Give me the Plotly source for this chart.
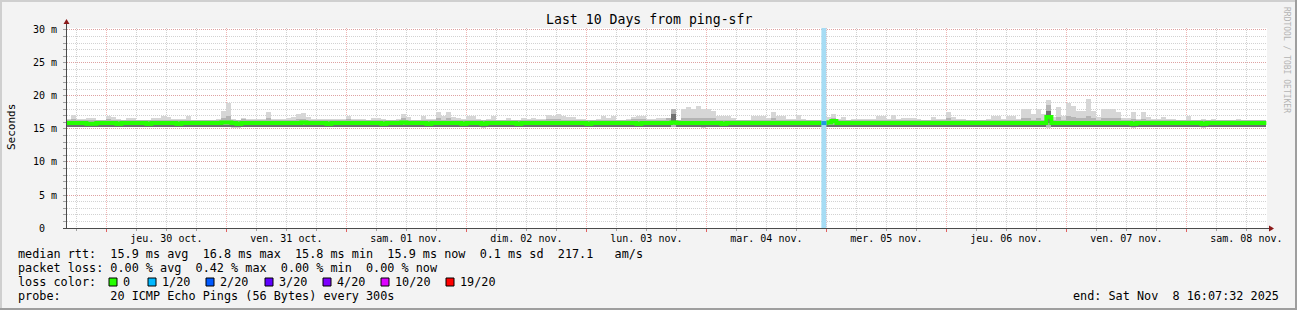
import plotly.graph_objects as go
import pandas as pd

# ---------------- data ----------------
block_start = "2025-10-29 16:00"          # first hourly consolidated block
range_start = "2025-10-29 16:07:32"
range_end = "2025-11-08 16:07:32"

smoke_max = [
    16.5,17.1,16.5,16.5,16.6,16.6,16.4,16.4,16.9,16.8,16.5,16.4,16.7,16.7,16.4,16.4,16.4,16.7,16.7,17.0,
    16.8,16.5,16.5,16.5,16.9,16.4,16.4,16.4,16.4,16.4,16.5,17.8,18.9,16.5,16.4,16.7,16.5,16.5,16.5,16.5,
    17.5,16.5,16.5,16.5,16.6,16.8,17.2,17.4,16.8,16.5,16.5,16.5,16.5,16.5,16.5,16.5,17.0,16.5,16.5,16.5,
    16.4,16.7,16.7,16.5,16.4,16.4,16.5,17.3,16.8,16.3,16.4,17.0,16.5,16.5,17.5,16.9,17.6,16.8,16.7,16.5,
    16.9,16.9,16.5,16.4,16.5,16.9,16.4,16.4,16.7,16.4,16.4,16.7,16.5,16.7,16.5,16.5,17.1,17.0,17.3,16.9,
    16.8,16.8,16.5,16.5,16.4,16.4,16.5,16.9,16.7,17.0,16.4,16.4,16.5,16.8,17.0,17.0,16.5,16.5,16.7,16.7,
    16.7,18.0,16.4,18.0,18.3,18.0,18.5,18.0,18.0,17.8,17.0,17.0,17.0,16.7,16.4,16.4,16.4,17.0,16.9,16.9,
    16.7,17.5,16.9,17.0,16.5,16.5,17.1,16.5,16.4,16.4,16.4,16.4,16.8,17.3,16.5,16.8,16.4,16.5,16.5,16.5,
    16.5,16.5,16.9,16.9,16.5,17.1,16.5,16.7,16.7,16.7,16.5,16.4,16.4,16.8,16.5,16.5,17.5,16.8,16.5,16.5,
    16.4,16.4,16.4,16.4,16.5,16.9,16.9,16.5,16.9,16.9,16.5,18.0,18.0,17.3,18.0,17.3,19.4,16.8,18.3,16.9,
    18.9,18.5,17.8,17.8,19.5,17.8,16.8,18.0,18.0,18.0,17.5,16.7,16.7,17.5,16.5,17.5,16.8,16.5,16.5,16.8,
    16.5,16.5,16.4,16.4,16.9,16.4,16.4,16.5,16.4,16.5,16.4,16.4,16.4,16.4,16.5,16.4,16.4,16.4,16.4,16.4,
]

smoke_min = [
    15.3,15.3,15.3,15.3,15.3,15.3,15.3,15.3,15.3,15.3,15.3,15.3,15.3,15.3,15.3,15.3,15.3,15.3,15.3,15.3,
    15.3,15.3,15.3,15.3,15.3,15.3,15.3,15.3,15.3,15.3,15.3,15.3,15.3,15.2,15.2,15.3,15.3,15.3,15.3,15.3,
    15.3,15.3,15.3,15.3,15.3,15.3,15.3,15.3,15.3,15.3,15.3,15.3,15.3,15.3,15.3,15.3,15.3,15.3,15.3,15.3,
    15.3,15.3,15.3,15.3,15.3,15.3,15.3,15.3,15.3,15.3,15.3,15.3,15.3,15.3,15.3,15.3,15.3,15.3,15.3,15.3,
    15.3,15.3,15.3,15.1,15.3,15.3,15.3,15.3,15.3,15.3,15.3,15.3,15.3,15.3,15.3,15.3,15.3,15.3,15.3,15.3,
    15.3,15.3,15.3,15.3,15.3,15.3,15.3,15.3,15.3,15.3,15.3,15.3,15.3,15.3,15.3,15.3,15.3,15.3,15.3,15.3,
    15.3,15.3,15.3,15.3,15.3,15.3,15.3,15.2,15.3,15.3,15.3,15.3,15.3,15.3,15.3,15.3,15.3,15.3,15.3,15.3,
    15.3,15.3,15.3,15.3,15.3,15.3,15.3,15.3,15.3,15.3,15.3,15.3,15.3,15.3,15.3,15.3,15.3,15.3,15.3,15.3,
    15.3,15.3,15.3,15.3,15.3,15.3,15.3,15.3,15.3,15.3,15.3,15.3,15.3,15.3,15.3,15.3,15.3,15.3,15.3,15.3,
    15.3,15.3,15.3,15.3,15.3,15.3,15.3,15.3,15.3,15.3,15.3,15.3,15.3,15.3,15.3,15.3,15.2,15.3,15.3,15.3,
    15.3,15.3,15.3,15.3,15.3,15.3,15.3,15.3,15.3,15.3,15.3,15.3,15.3,15.2,15.3,15.3,15.3,15.3,15.3,15.3,
    15.3,15.3,15.3,15.3,15.3,15.3,15.3,15.1,15.3,15.3,15.3,15.3,15.3,15.3,15.3,15.3,15.3,15.3,15.3,15.3,
]

inner_hi = [
    16.3,16.5,16.3,16.3,16.3,16.3,16.3,16.3,16.5,16.3,16.3,16.3,16.3,16.3,16.3,16.3,16.3,16.3,16.3,16.3,
    16.3,16.3,16.3,16.3,16.3,16.3,16.3,16.3,16.3,16.3,16.3,16.6,17.0,16.3,16.3,16.5,16.3,16.3,16.3,16.3,
    16.6,16.3,16.3,16.3,16.3,16.3,16.5,16.5,16.3,16.3,16.3,16.3,16.3,16.3,16.3,16.3,16.5,16.3,16.3,16.3,
    16.3,16.3,16.3,16.3,16.3,16.3,16.3,16.6,16.3,16.3,16.3,16.3,16.3,16.3,16.6,16.3,16.6,16.3,16.3,16.3,
    16.3,16.3,16.3,16.3,16.3,16.3,16.3,16.3,16.3,16.3,16.3,16.3,16.3,16.3,16.3,16.3,16.5,16.5,16.5,16.3,
    16.3,16.3,16.3,16.3,16.3,16.3,16.3,16.3,16.3,16.3,16.3,16.3,16.3,16.5,16.5,16.5,16.3,16.3,16.3,16.3,
    16.6,18.0,16.3,16.6,16.6,16.6,16.6,16.6,16.6,16.6,16.3,16.3,16.3,16.3,16.3,16.3,16.3,16.3,16.3,16.3,
    16.3,16.6,16.3,16.3,16.3,16.3,16.3,16.3,16.3,16.3,16.3,16.3,16.3,16.6,16.3,16.3,16.3,16.3,16.3,16.3,
    16.3,16.3,16.3,16.3,16.3,16.3,16.3,16.3,16.3,16.3,16.3,16.3,16.3,16.3,16.3,16.3,16.6,16.3,16.3,16.3,
    16.3,16.3,16.3,16.3,16.3,16.3,16.3,16.3,16.3,16.3,16.3,16.7,16.7,16.3,16.7,16.3,18.6,16.3,16.8,16.3,
    17.0,16.8,16.6,16.6,17.0,16.6,16.3,16.7,16.7,16.7,16.6,16.3,16.3,16.5,16.3,16.5,16.3,16.3,16.3,16.3,
    16.3,16.3,16.3,16.3,16.3,16.3,16.3,16.3,16.3,16.3,16.3,16.3,16.3,16.3,16.3,16.3,16.3,16.3,16.3,16.3,
]

inner_lo = [
    15.35,15.35,15.35,15.35,15.35,15.35,15.35,15.35,15.35,15.35,15.35,15.35,15.35,15.35,15.35,15.35,15.35,15.35,15.35,15.35,
    15.35,15.35,15.35,15.35,15.35,15.35,15.35,15.35,15.35,15.35,15.35,15.35,15.35,15.3,15.3,15.35,15.35,15.35,15.35,15.35,
    15.35,15.35,15.35,15.35,15.35,15.35,15.35,15.35,15.35,15.35,15.35,15.35,15.35,15.35,15.35,15.35,15.35,15.35,15.35,15.35,
    15.35,15.35,15.35,15.35,15.35,15.35,15.35,15.35,15.35,15.35,15.35,15.35,15.35,15.35,15.35,15.35,15.35,15.35,15.35,15.35,
    15.35,15.35,15.35,15.3,15.35,15.35,15.35,15.35,15.35,15.35,15.35,15.35,15.35,15.35,15.35,15.35,15.35,15.35,15.35,15.35,
    15.35,15.35,15.35,15.35,15.35,15.35,15.35,15.35,15.35,15.35,15.35,15.35,15.35,15.35,15.35,15.35,15.35,15.35,15.35,15.35,
    15.35,15.35,15.35,15.35,15.35,15.35,15.35,15.3,15.35,15.35,15.35,15.35,15.35,15.35,15.35,15.35,15.35,15.35,15.35,15.35,
    15.35,15.35,15.35,15.35,15.35,15.35,15.35,15.35,15.35,15.35,15.35,15.35,15.35,15.35,15.35,15.35,15.35,15.35,15.35,15.35,
    15.35,15.35,15.35,15.35,15.35,15.35,15.35,15.35,15.35,15.35,15.35,15.35,15.35,15.35,15.35,15.35,15.35,15.35,15.35,15.35,
    15.35,15.35,15.35,15.35,15.35,15.35,15.35,15.35,15.35,15.35,15.35,15.35,15.35,15.35,15.35,15.35,15.3,15.35,15.35,15.35,
    15.35,15.35,15.35,15.35,15.35,15.35,15.35,15.35,15.35,15.35,15.35,15.35,15.35,15.3,15.35,15.35,15.35,15.35,15.35,15.35,
    15.35,15.35,15.35,15.35,15.35,15.35,15.35,15.3,15.35,15.35,15.35,15.35,15.35,15.35,15.35,15.35,15.35,15.35,15.35,15.35,
]

core_hi = [
    15.56,15.56,15.56,15.56,15.56,15.56,15.56,15.56,15.56,15.56,15.56,15.56,15.56,15.56,15.56,15.56,15.56,15.56,15.56,15.56,
    15.56,15.56,15.56,15.56,15.56,15.56,15.56,15.56,15.56,15.56,15.56,15.56,15.56,15.56,15.56,15.56,15.56,15.56,15.56,15.56,
    15.56,15.56,15.56,15.56,15.56,15.56,15.56,15.56,15.56,15.56,15.56,15.56,15.56,15.56,15.56,15.56,15.56,15.56,15.56,15.56,
    15.56,15.56,15.56,15.56,15.56,15.56,15.56,15.56,15.56,15.56,15.56,15.56,15.56,15.56,15.56,15.56,15.56,15.56,15.56,15.56,
    15.56,15.56,15.56,15.56,15.56,15.56,15.56,15.56,15.56,15.56,15.56,15.56,15.56,15.56,15.56,15.56,15.56,15.56,15.56,15.56,
    15.56,15.56,15.56,15.56,15.56,15.56,15.56,15.56,15.56,15.56,15.56,15.56,15.56,15.56,15.56,15.56,15.56,15.56,15.56,15.56,
    15.56,17.2,15.56,15.56,15.56,15.56,15.56,15.56,15.56,15.56,15.56,15.56,15.56,15.56,15.56,15.56,15.56,15.56,15.56,15.56,
    15.56,15.56,15.56,15.56,15.56,15.56,15.56,15.56,15.56,15.56,15.56,15.56,15.56,15.56,15.56,15.56,15.56,15.56,15.56,15.56,
    15.56,15.56,15.56,15.56,15.56,15.56,15.56,15.56,15.56,15.56,15.56,15.56,15.56,15.56,15.56,15.56,15.56,15.56,15.56,15.56,
    15.56,15.56,15.56,15.56,15.56,15.56,15.56,15.56,15.56,15.56,15.56,15.56,15.56,15.56,15.56,15.56,17.7,15.56,15.56,15.56,
    15.56,15.56,15.56,15.56,15.56,15.56,15.56,15.56,15.56,15.56,15.56,15.56,15.56,15.56,15.56,15.56,15.56,15.56,15.56,15.56,
    15.56,15.56,15.56,15.56,15.56,15.56,15.56,15.56,15.56,15.56,15.56,15.56,15.56,15.56,15.56,15.56,15.56,15.56,15.56,15.56,
]

core_lo = [
    15.4,15.4,15.4,15.4,15.4,15.4,15.4,15.4,15.4,15.4,15.4,15.4,15.4,15.4,15.4,15.4,15.4,15.4,15.4,15.4,
    15.4,15.4,15.4,15.4,15.4,15.4,15.4,15.4,15.4,15.4,15.4,15.4,15.4,15.4,15.4,15.4,15.4,15.4,15.4,15.4,
    15.4,15.4,15.4,15.4,15.4,15.4,15.4,15.4,15.4,15.4,15.4,15.4,15.4,15.4,15.4,15.4,15.4,15.4,15.4,15.4,
    15.4,15.4,15.4,15.4,15.4,15.4,15.4,15.4,15.4,15.4,15.4,15.4,15.4,15.4,15.4,15.4,15.4,15.4,15.4,15.4,
    15.4,15.4,15.4,15.4,15.4,15.4,15.4,15.4,15.4,15.4,15.4,15.4,15.4,15.4,15.4,15.4,15.4,15.4,15.4,15.4,
    15.4,15.4,15.4,15.4,15.4,15.4,15.4,15.4,15.4,15.4,15.4,15.4,15.4,15.4,15.4,15.4,15.4,15.4,15.4,15.4,
    15.4,16.1,15.4,15.4,15.4,15.4,15.4,15.4,15.4,15.4,15.4,15.4,15.4,15.4,15.4,15.4,15.4,15.4,15.4,15.4,
    15.4,15.4,15.4,15.4,15.4,15.4,15.4,15.4,15.4,15.4,15.4,15.4,15.4,15.4,15.4,15.4,15.4,15.4,15.4,15.4,
    15.4,15.4,15.4,15.4,15.4,15.4,15.4,15.4,15.4,15.4,15.4,15.4,15.4,15.4,15.4,15.4,15.4,15.4,15.4,15.4,
    15.4,15.4,15.4,15.4,15.4,15.4,15.4,15.4,15.4,15.4,15.4,15.4,15.4,15.4,15.4,15.4,15.9,15.4,15.4,15.4,
    15.4,15.4,15.4,15.4,15.4,15.4,15.4,15.4,15.4,15.4,15.4,15.4,15.4,15.4,15.4,15.4,15.4,15.4,15.4,15.4,
    15.4,15.4,15.4,15.4,15.4,15.4,15.4,15.4,15.4,15.4,15.4,15.4,15.4,15.4,15.4,15.4,15.4,15.4,15.4,15.4,
]

median_rtt = [
    15.9,15.9,15.9,15.9,15.8,15.8,15.9,15.9,15.9,15.9,15.8,15.9,15.9,15.9,15.9,15.9,15.8,15.9,15.9,15.9,
    15.9,15.9,15.8,15.9,15.9,15.9,15.9,15.9,15.9,15.9,15.9,16.0,16.0,15.9,15.8,15.9,15.9,15.9,15.9,15.9,
    15.9,15.9,15.9,15.9,15.9,15.9,15.9,16.0,15.9,15.9,15.9,15.9,15.8,15.9,15.9,15.9,15.9,15.9,15.9,15.9,
    15.9,15.9,15.9,15.8,15.9,15.9,15.9,16.0,15.9,15.9,15.9,15.9,15.8,15.9,15.9,15.9,15.9,15.9,15.9,15.8,
    15.9,15.9,15.9,15.8,15.9,15.9,15.9,15.9,15.9,15.9,15.8,15.9,15.9,15.9,15.9,15.9,15.9,15.9,15.9,15.9,
    15.9,15.9,15.9,15.9,15.8,15.9,15.9,15.9,15.9,15.9,15.9,15.9,15.9,15.9,15.8,15.9,15.9,15.9,15.9,15.9,
    15.9,16.0,15.9,15.9,15.9,15.9,15.9,15.9,15.9,15.9,15.9,15.8,15.9,15.9,15.9,15.9,15.9,15.9,15.9,15.9,
    15.9,15.9,15.9,15.9,15.9,15.9,15.9,15.9,15.9,15.9,15.9,15.9,16.0,16.2,15.9,15.9,15.9,15.9,15.9,15.9,
    15.9,15.9,15.9,15.9,15.9,15.9,15.9,15.9,15.9,15.9,15.9,15.9,15.9,15.9,15.9,15.9,15.9,15.9,15.9,15.9,
    15.9,15.9,15.9,15.9,15.9,15.9,15.9,15.9,15.9,15.9,15.9,15.9,15.9,15.9,15.9,15.9,16.8,15.9,15.9,15.9,
    15.9,15.9,15.9,15.9,15.9,15.9,15.9,15.9,15.9,15.9,15.9,15.9,15.9,15.8,15.9,15.9,15.9,15.9,15.9,15.9,
    15.9,15.9,15.9,15.9,15.9,15.9,15.9,15.8,15.9,15.9,15.9,15.9,15.9,15.9,15.9,15.9,15.9,15.9,15.9,15.9,
]

# hours with packet loss: (block start, lost pings out of 20)
loss_events = [("2025-11-04 23:00", 1)]

day_noons = ["2025-10-30 12:00", "2025-10-31 12:00", "2025-11-01 12:00", "2025-11-02 12:00",
             "2025-11-03 12:00", "2025-11-04 12:00", "2025-11-05 12:00", "2025-11-06 12:00",
             "2025-11-07 12:00", "2025-11-08 12:00"]
day_labels = ["jeu. 30 oct.", "ven. 31 oct.", "sam. 01 nov.", "dim. 02 nov.", "lun. 03 nov.",
              "mar. 04 nov.", "mer. 05 nov.", "jeu. 06 nov.", "ven. 07 nov.", "sam. 08 nov."]
y_tickvals = [0, 5, 10, 15, 20, 25, 30]
y_ticktext = ["0\u00a0\u00a0", "5 m", "10 m", "15 m", "20 m", "25 m", "30 m"]

loss_labels = ["0", "1/20", "2/20", "3/20", "4/20", "10/20", "19/20"]
loss_colors = ["#26ff00", "#00b8ff", "#0059ff", "#5e00ff", "#7e00ff", "#dd00ff", "#ff0000"]

title = "Last 10 Days from ping-sfr"
legend_lines = [
    "median rtt:  15.9 ms avg  16.8 ms max  15.8 ms min  15.9 ms now  0.1 ms sd  217.1   am/s",
    "packet loss: 0.00 % avg  0.42 % max  0.00 % min  0.00 % now",
    "loss color:",
    "probe:       20 ICMP Echo Pings (56 Bytes) every 300s",
]
end_text = "end: Sat Nov  8 16:07:32 2025"
watermark = "RRDTOOL / TOBI OETIKER"

# ---------------- layout geometry ----------------
W, H = 1297, 310
L, R, T, B = 67, 30, 28, 82
PW, PH = W - L - R, H - T - B
MONO = "DejaVu Sans Mono"


def px(x):
    return (x - L) / PW


def py(y):
    return (T + PH - y) / PH


def nb(s):
    return s.replace(" ", "\u00a0")


t0 = pd.Timestamp(block_start)
hour = pd.Timedelta(hours=1)
starts = [t0 + i * hour for i in range(len(smoke_max))]
centers = [s + hour / 2 for s in starts]
bar_w = 3600 * 1000


def band(lo, hi, color):
    return go.Bar(x=centers, base=lo, y=[h - l for l, h in zip(lo, hi)], width=bar_w,
                  marker=dict(color=color, line=dict(width=0)), hoverinfo="skip",
                  showlegend=False)


fig = go.Figure()
fig.add_trace(band(smoke_min, smoke_max, "#d6d6d6"))
fig.add_trace(band(inner_lo, inner_hi, "#b4b4b4"))
fig.add_trace(band(core_lo, core_hi, "#707070"))
fig.add_trace(go.Scatter(x=starts + [starts[-1] + hour], y=median_rtt + [median_rtt[-1]],
                         mode="lines", line=dict(shape="hv", width=4, color=loss_colors[0]),
                         hoverinfo="skip", showlegend=False))
# invisible trace to attach the label axis
fig.add_trace(go.Scatter(x=[day_noons[0]], y=[None], xaxis="x2", yaxis="y",
                         mode="markers", showlegend=False, hoverinfo="skip"))

shapes = []
# loss hours
for t, lost in loss_events:
    ts = pd.Timestamp(t)
    idx = starts.index(ts)
    shapes.append(dict(type="rect", xref="x", yref="paper", x0=ts, x1=ts + hour, y0=0, y1=1,
                       fillcolor="#a6dcf4", line=dict(width=0), layer="above"))
    shapes.append(dict(type="line", xref="x", yref="y", x0=ts, x1=ts + hour,
                       y0=median_rtt[idx], y1=median_rtt[idx],
                       line=dict(color="#1e9be0", width=4), layer="above"))

axis_col = "#4a4a4a"
arrow_col = "#8b1a1a"
# axis extensions and arrows
shapes.append(dict(type="line", xref="paper", yref="paper", x0=px(66.5), x1=px(66.5), y0=py(228), y1=py(23),
                   line=dict(color=axis_col, width=1), layer="above"))
shapes.append(dict(type="path", xref="paper", yref="paper",
                   path=f"M {px(63.5)} {py(24)} L {px(69.5)} {py(24)} L {px(66.5)} {py(19)} Z",
                   fillcolor=arrow_col, line=dict(width=0), layer="above"))
shapes.append(dict(type="line", xref="paper", yref="paper", x0=px(63), x1=px(1270), y0=py(228.5), y1=py(228.5),
                   line=dict(color=axis_col, width=1), layer="above"))
shapes.append(dict(type="path", xref="paper", yref="paper",
                   path=f"M {px(1269)} {py(225.5)} L {px(1269)} {py(231.5)} L {px(1274)} {py(228.5)} Z",
                   fillcolor=arrow_col, line=dict(width=0), layer="above"))
# frame
shapes.append(dict(type="rect", xref="paper", yref="paper", x0=px(0), x1=px(W), y0=py(0), y1=py(2),
                   fillcolor="#cfcfcf", line=dict(width=0), layer="above"))
shapes.append(dict(type="rect", xref="paper", yref="paper", x0=px(0), x1=px(2), y0=py(0), y1=py(H),
                   fillcolor="#cfcfcf", line=dict(width=0), layer="above"))
shapes.append(dict(type="rect", xref="paper", yref="paper", x0=px(W - 2), x1=px(W), y0=py(0), y1=py(H),
                   fillcolor="#9e9e9e", line=dict(width=0), layer="above"))
shapes.append(dict(type="rect", xref="paper", yref="paper", x0=px(0), x1=px(W), y0=py(H - 2), y1=py(H),
                   fillcolor="#9e9e9e", line=dict(width=0), layer="above"))

annotations = []
annotations.append(dict(text=title, xref="paper", yref="paper", x=px(W / 2), y=py(19),
                        xanchor="center", yanchor="middle", showarrow=False,
                        font=dict(family=MONO, size=13.2, color="#000")))
annotations.append(dict(text="Seconds", xref="paper", yref="paper", x=px(11), y=py(127),
                        xanchor="center", yanchor="middle", showarrow=False, textangle=-90,
                        font=dict(family=MONO, size=11, color="#000")))
annotations.append(dict(text=watermark, xref="paper", yref="paper", x=px(1287), y=py(60),
                        xanchor="center", yanchor="middle", showarrow=False, textangle=90,
                        font=dict(family=MONO, size=8, color="#b4b4b4")))
line_y = [254, 268, 282, 296]
for txt, yy in zip(legend_lines, line_y):
    annotations.append(dict(text=nb(txt), xref="paper", yref="paper", x=px(16), y=py(yy),
                            xanchor="left", yanchor="middle", showarrow=False,
                            font=dict(family=MONO, size=11.8, color="#000")))
annotations.append(dict(text=nb(end_text), xref="paper", yref="paper", x=px(1281), y=py(296),
                        xanchor="right", yanchor="middle", showarrow=False,
                        font=dict(family=MONO, size=11.8, color="#000")))
box_x = [109, 148, 206, 265, 323, 381, 446]
for bx, lab, col in zip(box_x, loss_labels, loss_colors):
    shapes.append(dict(type="rect", xref="paper", yref="paper", x0=px(bx), x1=px(bx + 8),
                       y0=py(278), y1=py(286), fillcolor=col,
                       line=dict(color="#000", width=1), layer="above"))
    annotations.append(dict(text=lab, xref="paper", yref="paper", x=px(bx + 12), y=py(282),
                            xanchor="left", yanchor="middle", showarrow=False,
                            font=dict(family=MONO, size=11.8, color="#000")))

red_grid = "rgba(230,130,130,0.6)"
gray_grid = "#d2d2d2"

fig.update_layout(
    width=W, height=H,
    margin=dict(l=L, r=R, t=T, b=B, pad=0),
    paper_bgcolor="#f3f3f3", plot_bgcolor="#ffffff",
    barmode="overlay", bargap=0,
    showlegend=False,
    shapes=shapes, annotations=annotations,
    xaxis=dict(type="date", range=[range_start, range_end], showgrid=True,
               gridcolor=red_grid, griddash="1px,1px", gridwidth=1,
               tick0="2025-10-30 00:00", dtick=86400000, showticklabels=False,
               ticks="outside", ticklen=3, tickcolor="#e06060",
               minor=dict(dtick=6 * 3600000, showgrid=True, gridcolor=gray_grid,
                          griddash="1px,1px", ticks="outside", ticklen=2, tickcolor="#a0a0a0"),
               showline=False, zeroline=False, fixedrange=True),
    xaxis2=dict(type="date", range=[range_start, range_end], overlaying="x", anchor="y",
                side="bottom", tickvals=day_noons, ticktext=day_labels, showgrid=False,
                ticks="", ticklabelstandoff=3,
                tickfont=dict(family=MONO, size=10, color="#000"), showline=False, zeroline=False),
    yaxis=dict(range=[0, 30.3], tickvals=y_tickvals, ticktext=y_ticktext, showgrid=True,
               gridcolor=red_grid, griddash="1px,1px", gridwidth=1,
               ticks="outside", ticklen=3, tickcolor="#a0a0a0",
               minor=dict(dtick=1, showgrid=True, gridcolor=gray_grid, griddash="1px,1px",
                          ticks="outside", ticklen=3, tickcolor="#a0a0a0"),
               tickfont=dict(family=MONO, size=10, color="#000"), ticklabelstandoff=4,
               showline=False, zeroline=False),
)

fig.write_html("out.html")
